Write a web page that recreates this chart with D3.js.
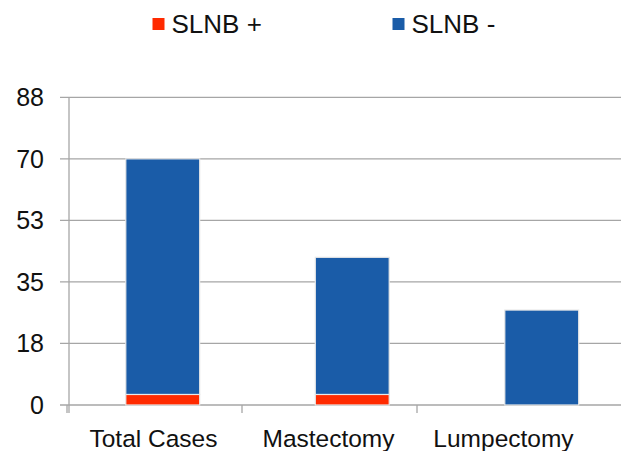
<!DOCTYPE html>
<html><head><meta charset="utf-8">
<script src="https://cdn.jsdelivr.net/npm/d3@7"></script>
<style>body{margin:0;background:#fff}svg{display:block}text{font-family:"Liberation Sans",Arial,sans-serif;fill:#111}</style>
</head><body><svg id="c" width="627" height="451"></svg>
<script>
const categories = ["Total Cases", "Mastectomy", "Lumpectomy"];
const slnbPos = [3, 3, 0];
const slnbNeg = [67, 39, 27];
const yTicks = [0, 17.5, 35, 52.5, 70, 87.5];
const seriesNames = ["SLNB +", "SLNB -"];
const colors = ["#ff2a00", "#1a5ca8"];

const svg = d3.select("#c");
const y = d3.scaleLinear().domain([0, 87.5]).range([405, 97.3]);
const xBar = d3.scaleBand().domain(categories).range([68, 636.5]).paddingInner(0.61).paddingOuter(0.305);
const xLab = d3.scaleBand().domain(categories).range([67, 592]);

svg.append("g").selectAll("line").data(yTicks).join("line")
  .attr("x1", 60).attr("x2", 621)
  .attr("y1", d => y(d)).attr("y2", d => y(d))
  .attr("stroke", "#a6a6a6").attr("stroke-width", 1.3);
svg.append("g").selectAll("text").data(yTicks).join("text")
  .attr("x", 44).attr("y", d => y(d) + 9)
  .attr("text-anchor", "end").attr("font-size", 25)
  .text(d => Math.round(d));
svg.append("line").attr("x1", 69).attr("x2", 69).attr("y1", y(87.5)).attr("y2", 413)
  .attr("stroke", "#a6a6a6").attr("stroke-width", 1.3);
svg.append("g").selectAll("line").data(categories).join("line")
  .attr("x1", d => xLab(d)).attr("x2", d => xLab(d)).attr("y1", 405).attr("y2", 413)
  .attr("stroke", "#a6a6a6").attr("stroke-width", 1.3);

const data = categories.map((c, i) => ({cat: c, pos: slnbPos[i], neg: slnbNeg[i]}));
const stack = d3.stack().keys(["pos", "neg"])(data);
svg.append("g").selectAll("g").data(stack).join("g")
  .attr("fill", (d, i) => colors[i])
  .selectAll("rect").data(d => d.filter(s => s[1] > s[0])).join("rect")
  .attr("x", d => xBar(d.data.cat)).attr("width", xBar.bandwidth())
  .attr("y", d => y(d[1])).attr("height", d => y(d[0]) - y(d[1]))
  .attr("stroke", "#e8e8e8").attr("stroke-width", 1.2);

svg.append("g").selectAll("text").data(categories).join("text")
  .attr("x", d => xLab(d) + xLab.bandwidth() / 2 - 1).attr("y", 447)
  .attr("text-anchor", "middle").attr("font-size", 24.5)
  .text(d => d);

const legX = [152.5, 392.5];
const lg = svg.append("g").selectAll("g").data(seriesNames).join("g")
  .attr("transform", (d, i) => `translate(${legX[i]},0)`);
lg.append("rect").attr("x", 0).attr("y", 18).attr("width", 12).attr("height", 12)
  .attr("fill", (d, i) => colors[i]);
lg.append("text").attr("x", 19).attr("y", 33).attr("font-size", 26).text(d => d);
</script></body></html>
